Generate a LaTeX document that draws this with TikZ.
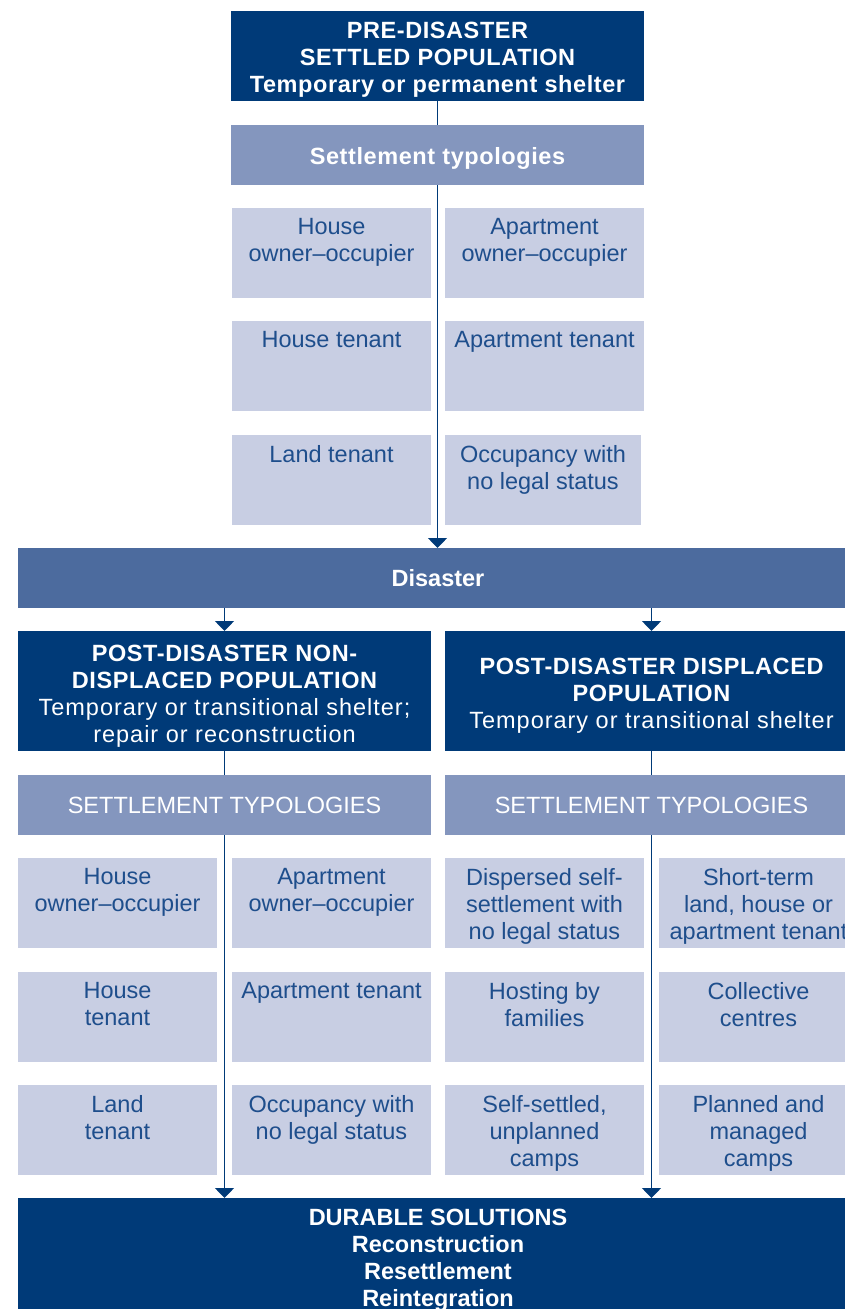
\documentclass[tikz,border=0pt]{standalone}
\usepackage{fontspec}
\setmainfont{Liberation Sans}
\newfontfamily\hdfont[LetterSpace=2.5]{Liberation Sans}
\newfontfamily\hdreg[LetterSpace=4.2]{Liberation Sans}
\usetikzlibrary{arrows.meta}
\definecolor{cdark}{RGB}{0,58,120}
\definecolor{cmid}{RGB}{132,150,190}
\definecolor{cdis}{RGB}{76,107,158}
\definecolor{clight}{RGB}{200,206,227}
\definecolor{ctext}{RGB}{30,78,140}
% width, height, top gap, text
\newcommand\boxtxt[4]{\parbox[c][#2pt][t]{#1pt}{\centering\vspace*{#3pt}#4}}
\newcommand\celltxt[2]{\boxtxt{#1}{90}{10}{#2}}
\newcommand\hb{\hdfont\bfseries}
\begin{document}
\begin{tikzpicture}[x=1pt,y=-1pt,
  box/.style={inner sep=0pt, outer sep=0pt, anchor=north west, align=center, font=\fontsize{23.5pt}{27pt}\selectfont},
  darkbox/.style={box, fill=cdark, text=white},
  midbox/.style={box, fill=cmid, text=white, minimum width=413pt, minimum height=60pt},
  disbox/.style={box, fill=cdis, text=white},
  cell/.style={box, fill=clight, text=ctext, minimum width=199pt, minimum height=90pt},
  conn/.style={draw=cdark, line width=1.5pt},
  arr/.style={conn, -{Triangle[width=19pt,length=10pt]}}
]
\useasboundingbox (0,0) rectangle (845,1309);
\clip (0,0) rectangle (845,1309);

% top section
\node[darkbox, minimum width=413pt, minimum height=90pt] (top) at (231,11)
  {\boxtxt{413}{90}{11.5}{\hb PRE-DISASTER\\SETTLED POPULATION\\Temporary or permanent shelter}};
\node[midbox] (st1) at (231,125) {\boxtxt{413}{60}{22.5}{\hb Settlement typologies}};

\node[cell] (a11) at (232,208) {\celltxt{199}{House\\owner–occupier}};
\node[cell] (a12) at (445,208) {\celltxt{199}{Apartment\\owner–occupier}};
\node[cell] (a21) at (232,321) {\celltxt{199}{House tenant}};
\node[cell] (a22) at (445,321) {\celltxt{199}{Apartment tenant}};
\node[cell] (a31) at (232,435) {\celltxt{199}{Land tenant}};
\node[cell, minimum width=196pt] (a32) at (445,435) {\celltxt{196}{Occupancy with\\no legal status}};

% disaster
\node[disbox, minimum width=840pt, minimum height=60pt] (dis) at (18,548) {\bfseries Disaster};

% post-disaster headers
\node[darkbox, minimum width=413pt, minimum height=120pt] (nd) at (18,631)
  {\boxtxt{413}{120}{13.6}{{\hb POST-DISASTER NON-\\DISPLACED POPULATION}\\{\hdreg Temporary or transitional shelter;\\repair or reconstruction}}};
\node[darkbox, minimum width=413pt, minimum height=120pt] (dp) at (445,631)
  {\boxtxt{413}{120}{26.6}{{\hb POST-DISASTER DISPLACED\\POPULATION}\\{\hdreg Temporary or transitional shelter}}};

\node[midbox] (st2) at (18,775) {SETTLEMENT TYPOLOGIES};
\node[midbox] (st3) at (445,775) {SETTLEMENT TYPOLOGIES};

% lower cells
\node[cell] (b11) at (18,858)  {\celltxt{199}{House\\owner–occupier}};
\node[cell] (b21) at (18,972)  {\celltxt{199}{House\\tenant}};
\node[cell] (b31) at (18,1085) {\celltxt{199}{Land\\tenant}};
\node[cell] (b12) at (232,858)  {\celltxt{199}{Apartment\\owner–occupier}};
\node[cell] (b22) at (232,972)  {\celltxt{199}{Apartment tenant}};
\node[cell] (b32) at (232,1085) {\celltxt{199}{Occupancy with\\no legal status}};
\node[cell] (b13) at (445,858)  {\celltxt{199}{Dispersed self-\\settlement with\\no legal status}};
\node[cell] (b23) at (445,972)  {\celltxt{199}{Hosting by\\families}};
\node[cell] (b33) at (445,1085) {\celltxt{199}{Self-settled,\\unplanned\\camps}};
\node[cell] (b14) at (659,858)  {\celltxt{199}{Short-term\\land, house or\\apartment tenant}};
\node[cell] (b24) at (659,972)  {\celltxt{199}{Collective\\centres}};
\node[cell] (b34) at (659,1085) {\celltxt{199}{Planned and\\managed\\camps}};

% durable solutions
\node[darkbox, minimum width=840pt, minimum height=118pt] (dur) at (18,1198)
  {\boxtxt{840}{118}{10.6}{\bfseries DURABLE SOLUTIONS\\Reconstruction\\Resettlement\\Reintegration}};

% connectors
\draw[conn] (top.south) -- (st1.north);
\draw[arr] (st1.south) -- (st1.south |- dis.north);
\draw[arr] (nd.north |- dis.south) -- (nd.north);
\draw[arr] (dp.north |- dis.south) -- (dp.north);
\draw[conn] (nd.south) -- (st2.north);
\draw[conn] (dp.south) -- (st3.north);
\draw[arr] (st2.south) -- (st2.south |- dur.north);
\draw[arr] (st3.south) -- (st3.south |- dur.north);
\end{tikzpicture}
\end{document}
